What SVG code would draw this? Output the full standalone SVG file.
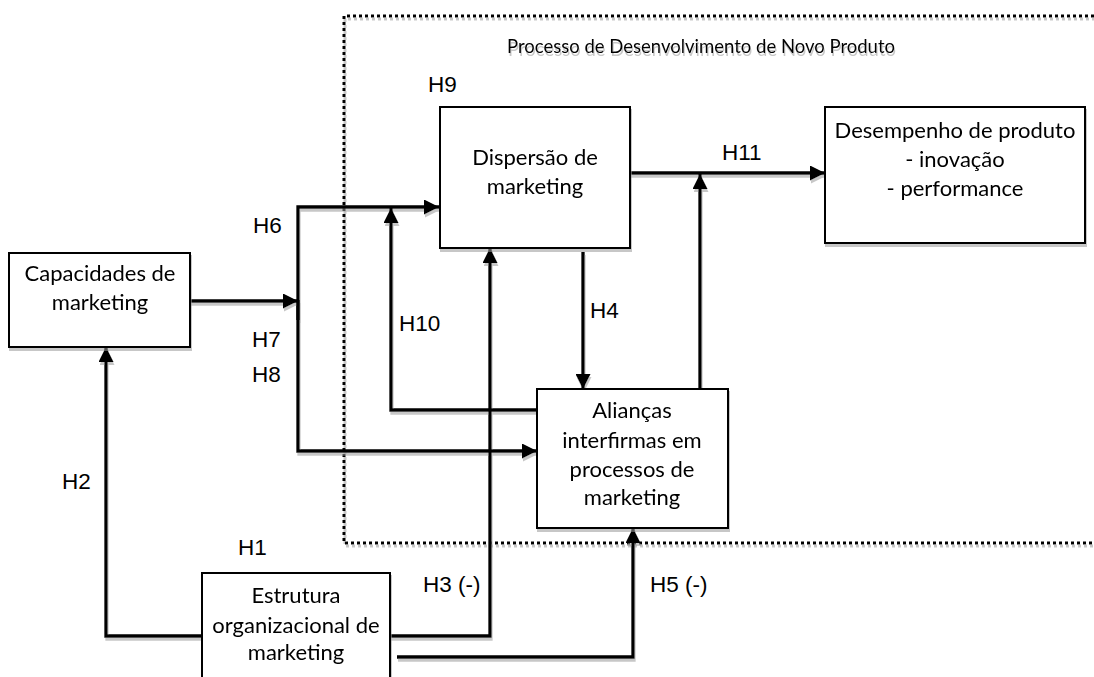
<svg xmlns="http://www.w3.org/2000/svg" width="1094" height="677" viewBox="0 0 1094 677">
  <style>
    .box { fill: #ffffff; stroke: #000000; stroke-width: 2; }
    .lbl { font-family: Lato, "Open Sans", sans-serif; font-size: 22px; fill: #000000; text-anchor: middle; }
    .hyp { font-family: "Liberation Sans", Arial, sans-serif; font-size: 22.5px; fill: #000000; }
    .wire { fill: none; stroke: #000000; stroke-width: 3.3; }
    .frame { fill: none; stroke: #000000; stroke-width: 3; stroke-dasharray: 3 3; }
  </style>
  <defs>
    <filter id="shade" x="-5%" y="-5%" width="110%" height="115%">
      <feDropShadow dx="1" dy="3" stdDeviation="0.6" flood-color="#9a9a9a" flood-opacity="0.55"/>
    </filter>
    <marker id="arrow" viewBox="0 0 15 15" refX="15" refY="7.5" markerWidth="15" markerHeight="15" markerUnits="userSpaceOnUse" orient="auto">
      <path d="M0,0 L15,7.5 L0,15 z" fill="#000000"/>
    </marker>
  </defs>

  <!-- dotted boundary of the development process -->
  <g id="process-frame" filter="url(#shade)">
    <path class="frame" d="M1094,16 H344 V543 H1094"/>
    <text class="lbl" x="701" y="53" style="font-size:18.5px">Processo de Desenvolvimento de Novo Produto</text>
  </g>

  <!-- connectors -->
  <g id="connectors" filter="url(#shade)">
    <path class="wire" d="M190,301 H298" marker-end="url(#arrow)"/>
    <path class="wire" d="M298,320 V207 H439" marker-end="url(#arrow)"/>
    <path class="wire" d="M298,300 V451 H537" marker-end="url(#arrow)"/>
    <path class="wire" d="M537,410 H391 V208" marker-end="url(#arrow)"/>
    <path class="wire" d="M390,636 H490 V248" marker-end="url(#arrow)"/>
    <path class="wire" d="M397,657 H633 V528" marker-end="url(#arrow)"/>
    <path class="wire" d="M201,636 H106 V347" marker-end="url(#arrow)"/>
    <path class="wire" d="M583,252 V389" marker-end="url(#arrow)"/>
    <path class="wire" d="M630,173 H825" marker-end="url(#arrow)"/>
    <path class="wire" d="M700,389 V174" marker-end="url(#arrow)"/>
  </g>

  <!-- hypothesis labels -->
  <g id="hypotheses">
    <text class="hyp" x="428" y="92">H9</text>
    <text class="hyp" x="253" y="233">H6</text>
    <text class="hyp" x="252" y="347">H7</text>
    <text class="hyp" x="252" y="382">H8</text>
    <text class="hyp" x="399" y="331">H10</text>
    <text class="hyp" x="590" y="318">H4</text>
    <text class="hyp" x="722" y="160">H11</text>
    <text class="hyp" x="62" y="489">H2</text>
    <text class="hyp" x="238" y="555">H1</text>
    <text class="hyp" x="423" y="592">H3 (-)</text>
    <text class="hyp" x="650" y="592">H5 (-)</text>
  </g>

  <g id="capacidades" filter="url(#shade)">
    <rect class="box" x="9" y="253" width="181" height="94"/>
    <text class="lbl" x="100" y="281">Capacidades de</text>
    <text class="lbl" x="100" y="310">marketing</text>
  </g>

  <g id="dispersao" filter="url(#shade)">
    <rect class="box" x="440" y="107" width="190" height="141"/>
    <text class="lbl" x="535" y="165">Dispersão de</text>
    <text class="lbl" x="535" y="194">marketing</text>
  </g>

  <g id="desempenho" filter="url(#shade)">
    <rect class="box" x="825" y="107" width="260" height="136"/>
    <text class="lbl" x="955" y="138">Desempenho de produto</text>
    <text class="lbl" x="955" y="167">- inovação</text>
    <text class="lbl" x="955" y="196">- performance</text>
  </g>

  <g id="aliancas" filter="url(#shade)">
    <rect class="box" x="537" y="389" width="191" height="139"/>
    <text class="lbl" x="632" y="418">Alianças</text>
    <text class="lbl" x="632" y="448">interfirmas em</text>
    <text class="lbl" x="632" y="477">processos de</text>
    <text class="lbl" x="632" y="505">marketing</text>
  </g>

  <g id="estrutura" filter="url(#shade)">
    <rect class="box" x="202" y="573" width="188" height="120"/>
    <text class="lbl" x="296" y="603">Estrutura</text>
    <text class="lbl" x="296" y="633">organizacional de</text>
    <text class="lbl" x="296" y="660">marketing</text>
  </g>
</svg>
